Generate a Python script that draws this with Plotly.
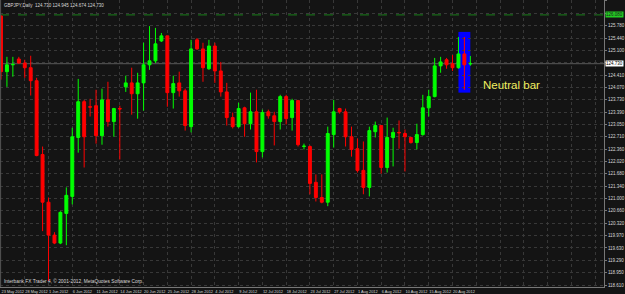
import plotly.graph_objects as go

# ---- data ----
opens = [126.05, 124.51, 124.70, 124.86, 124.75, 124.62, 124.26, 122.22, 120.90, 119.99,
         119.77, 120.59, 121.06, 122.69, 123.68, 123.54, 123.57, 122.74, 123.73, 123.13,
         123.49, 124.09, 124.20, 123.90, 124.20, 124.70, 124.81, 125.36, 125.50, 123.93,
         124.20, 123.98, 122.99, 125.39, 125.14, 124.59, 125.22, 124.53, 123.95, 123.24,
         122.99, 123.51, 123.07, 123.40, 122.30, 123.40, 123.29, 123.13, 123.82, 123.24,
         123.71, 122.44, 122.44, 121.45, 121.03, 120.90, 122.77, 123.49, 123.40, 122.71,
         122.38, 121.78, 121.31, 122.85, 123.02, 121.86, 122.69, 122.83, 122.80, 122.69,
         122.55, 122.77, 123.51, 123.82, 124.67, 124.84, 124.73, 124.62, 125.00, 124.73]
highs = [126.07, 124.92, 124.92, 124.92, 124.84, 124.95, 124.34, 122.44, 121.03, 120.07,
         120.65, 121.31, 122.96, 124.31, 123.73, 123.76, 124.01, 124.04, 124.23, 123.51,
         123.57, 124.40, 124.62, 124.48, 125.31, 125.77, 125.72, 125.58, 125.50, 124.40,
         124.51, 124.04, 125.39, 125.44, 125.31, 125.39, 125.31, 124.78, 124.20, 123.38,
         123.65, 123.54, 123.93, 124.01, 123.46, 123.46, 123.40, 123.87, 123.87, 123.76,
         123.73, 122.52, 122.47, 121.67, 121.67, 122.99, 123.73, 123.51, 123.49, 122.99,
         122.66, 122.58, 122.99, 123.13, 123.02, 123.24, 122.96, 123.16, 122.91, 122.71,
         123.07, 123.87, 124.01, 124.89, 124.92, 124.89, 124.97, 125.47, 125.47, 124.945]
lows = [124.29, 124.09, 124.37, 124.73, 124.34, 123.85, 122.17, 120.10, 118.72, 119.74,
        119.74, 119.71, 120.84, 122.27, 121.86, 123.27, 122.52, 122.49, 122.99, 122.71,
        122.08, 123.95, 123.32, 123.21, 123.43, 124.56, 124.75, 125.33, 123.54, 123.49,
        123.82, 122.88, 122.83, 125.11, 124.23, 124.56, 124.20, 123.82, 123.02, 122.94,
        122.96, 122.71, 122.91, 122.00, 122.14, 123.21, 122.47, 122.91, 123.05, 122.88,
        122.44, 122.36, 121.12, 120.92, 120.87, 120.79, 122.41, 123.35, 122.44, 122.16,
        121.72, 121.12, 121.06, 122.69, 121.69, 121.72, 121.89, 122.38, 121.75, 122.52,
        122.36, 122.74, 123.27, 123.80, 124.48, 124.59, 124.53, 124.59, 124.01, 124.674]
closes = [124.51, 124.70, 124.71, 124.75, 124.62, 124.26, 122.19, 120.90, 119.99, 119.77,
          120.62, 121.09, 122.71, 123.68, 122.71, 123.53, 122.74, 123.73, 123.13, 123.49,
          123.48, 124.20, 123.90, 124.20, 124.70, 124.81, 125.28, 125.50, 123.93, 124.18,
          123.98, 123.02, 125.14, 125.14, 124.62, 125.22, 124.53, 123.95, 123.24, 122.99,
          123.49, 123.07, 123.40, 122.30, 123.38, 123.29, 123.13, 123.82, 123.21, 123.71,
          122.49, 122.45, 121.42, 121.03, 120.90, 122.80, 123.40, 123.40, 122.71, 122.36,
          121.78, 121.31, 122.88, 123.02, 121.86, 122.69, 122.83, 122.82, 122.71, 122.55,
          122.77, 123.51, 123.82, 124.67, 124.78, 124.70, 124.62, 125.00, 124.70, 124.73]

date_labels = ["23 May 2012", "28 May 2012", "1 Jun 2012", "6 Jun 2012", "11 Jun 2012",
               "14 Jun 2012", "20 Jun 2012", "25 Jun 2012", "28 Jun 2012", "4 Jul 2012",
               "9 Jul 2012", "12 Jul 2012", "18 Jul 2012", "23 Jul 2012", "27 Jul 2012",
               "1 Aug 2012", "6 Aug 2012", "10 Aug 2012", "15 Aug 2012", "20 Aug 2012"]
bars_per_label = 4

price_ticks = [118.610, 118.952, 119.293, 119.635, 119.976, 120.318, 120.659, 121.001,
               121.342, 121.684, 122.025, 122.367, 122.708, 123.050, 123.391, 123.733,
               124.074, 124.416, 124.757, 125.099, 125.440, 125.782, 126.123, 126.465]
price_labels = ["118.610", "118.950", "119.290", "119.630", "119.970", "120.320", "120.660",
                "121.000", "121.340", "121.680", "122.020", "122.360", "122.710", "123.050",
                "123.390", "123.730", "124.070", "124.410", "124.760", "125.100", "125.440",
                "125.780", "126.120", "126.470"]

bid_price = 124.73
hline_price = 126.08
neutral_index = 78
neutral_box_low, neutral_box_high = 123.93, 125.61
header = "GBPJPY,Daily  124.730 124.945 124.674 124.730"
footer = "Interbank FX Trader 4, \u00a9 2001-2012, MetaQuotes Software Corp."

BG = "#141414"
GRID = "#383838"
TXT = "#d8d8d8"
FONT = "Liberation Sans"

x = list(range(len(opens)))
tickvals = [i * bars_per_label for i in range(len(date_labels))]
extra_grid = list(range(tickvals[-1] + bars_per_label, 102, bars_per_label))

# axis labels hidden behind the price markers (as in the terminal)
shown_price_labels = [lab if min(abs(v - bid_price), abs(v - hline_price)) > 0.15 else ""
                      for v, lab in zip(price_ticks, price_labels)]

fig = go.Figure()
fig.add_trace(go.Candlestick(
    x=x, open=opens, high=highs, low=lows, close=closes,
    increasing=dict(line=dict(color="#00ff00", width=1), fillcolor="#00ff00"),
    decreasing=dict(line=dict(color="#ff0000", width=1), fillcolor="#ff0000"),
    whiskerwidth=0, hoverinfo="skip", showlegend=False,
))

# neutral bar highlight box
fig.add_shape(type="rect", xref="x", yref="y",
              x0=neutral_index - 1.0, x1=neutral_index + 1.0,
              y0=neutral_box_low, y1=neutral_box_high,
              fillcolor="#0000ff", line=dict(width=0), layer="below")
# horizontal lines
fig.add_shape(type="line", xref="paper", yref="y", x0=0, x1=1, y0=hline_price, y1=hline_price,
              line=dict(color="#1a7f1a", width=1, dash="dash"), layer="below")
fig.add_shape(type="line", xref="paper", yref="y", x0=0, x1=1, y0=bid_price, y1=bid_price,
              line=dict(color="#5a5a5a", width=1), layer="below")
# left edge line
fig.add_shape(type="line", xref="paper", yref="paper", x0=0.001, x1=0.001, y0=0, y1=1,
              line=dict(color="#555555", width=1))

fig.add_annotation(xref="x", yref="y", x=neutral_index + 2.8, y=124.15, text="Neutral bar",
                   showarrow=False, xanchor="left", yanchor="middle",
                   font=dict(family=FONT, size=11.5, color="#f2f060"))
fig.add_annotation(xref="paper", yref="paper", x=0.004, y=0.995, text=header,
                   showarrow=False, xanchor="left", yanchor="top",
                   font=dict(family=FONT, size=4.5, color=TXT))
fig.add_annotation(xref="paper", yref="paper", x=0.003, y=0.005, text=footer,
                   showarrow=False, xanchor="left", yanchor="bottom",
                   font=dict(family=FONT, size=4.8, color=TXT))
# price markers on the axis
fig.add_annotation(xref="paper", yref="y", x=1, y=bid_price, text="124.730",
                   showarrow=False, xanchor="left", yanchor="middle", xshift=1,
                   bgcolor="#ffffff", borderpad=0,
                   font=dict(family=FONT, size=4.5, color="#000000"))
fig.add_annotation(xref="paper", yref="y", x=1, y=hline_price, text="126.080",
                   showarrow=False, xanchor="left", yanchor="middle", xshift=1,
                   bgcolor="#22cc22", borderpad=0,
                   font=dict(family=FONT, size=4.5, color="#202020"))

fig.update_layout(
    width=625, height=294,
    margin=dict(l=0, r=15, t=0, b=6, pad=0),
    paper_bgcolor=BG, plot_bgcolor=BG,
    boxgap=0.3,
    xaxis=dict(range=[-0.167, 101.5], rangeslider=dict(visible=False),
               tickvals=tickvals + extra_grid,
               ticktext=date_labels + [""] * len(extra_grid),
               ticklabelposition="outside right", tickangle=0,
               tickfont=dict(family=FONT, size=3.9, color=TXT),
               showgrid=True, gridcolor=GRID, griddash="dot", gridwidth=1,
               showline=True, linecolor="#777777", linewidth=1,
               ticks="", zeroline=False, fixedrange=True),
    yaxis=dict(range=[118.555, 126.492], side="right",
               tickvals=price_ticks, ticktext=shown_price_labels,
               tickfont=dict(family=FONT, size=4.5, color=TXT),
               showgrid=True, gridcolor=GRID, griddash="dot", gridwidth=1,
               showline=True, linecolor="#777777", linewidth=1,
               ticks="outside", ticklen=2, tickcolor="#777777",
               zeroline=False, fixedrange=True),
)

fig.write_html("out.html")
